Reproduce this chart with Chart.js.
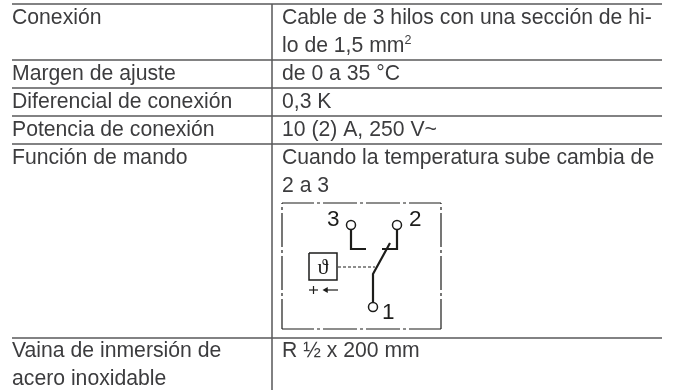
<!DOCTYPE html>
<html lang="es">

<head>
    <meta charset="UTF-8">
    <title>Datos técnicos</title>
    <style>
        body { margin: 0; background: #fff; }
        canvas { display: block; }
    </style>
</head>

<body>
    <canvas id="tabla" width="673" height="390"></canvas>
    <script src="https://cdn.jsdelivr.net/npm/chart.js"></script>
    <script>
        // the axes run in picture pixels, so every value below is read straight off the reference
        var labelsIzquierda = ['Conexión', 'Margen de ajuste', 'Diferencial de conexión', 'Potencia de conexión', 'Función de mando', 'Vaina de inmersión de', 'acero inoxidable'];
        var lineasIzquierda = [24, 80, 108, 136, 164, 357, 385];
        var labelsDerecha = ['Cable de 3 hilos con una sección de hi-', 'lo de 1,5 mm', 'de 0 a 35 °C', '0,3 K', '10 (2) A, 250 V~', 'Cuando la temperatura sube cambia de', '2 a 3', 'R ½ x 200 mm'];
        var lineasDerecha = [24, 52, 80, 108, 136, 164, 192, 357];

        var filasY = [4, 60, 88, 116, 144, 338];
        var columnaX = 272;
        var tablaX = [12, 662];
        var tablaY = [4, 390];

        // esquema del termostato
        var marcoX = [282, 441];
        var marcoY = [203, 329];
        var bornes = [{ x: 351, y: 225 }, { x: 397, y: 225 }, { x: 373, y: 307 }];
        var bornesNombres = ['3', '2', '1'];
        var bornesTextoX = [327, 409, 382];
        var bornesTextoY = [226, 226, 319];
        var contacto3 = [{ x: 351, y: 229 }, { x: 351, y: 249 }, { x: 366, y: 249 }];
        var contacto2 = [{ x: 397, y: 229 }, { x: 397, y: 249 }, { x: 382, y: 249 }];
        var palanca = [{ x: 373, y: 303 }, { x: 373, y: 274 }, { x: 390, y: 243 }];
        var sensor = [{ x: 309, y: 253 }, { x: 337, y: 253 }, { x: 337, y: 280 }, { x: 309, y: 280 }, { x: 309, y: 253 }];
        var enlace = [{ x: 338, y: 267 }, { x: 375, y: 267 }];
        var mas = [{ x: 309, y: 290 }, { x: 318, y: 290 }];
        var masV = [{ x: 313.5, y: 286 }, { x: 313.5, y: 294 }];
        var flecha = [{ x: 326, y: 290 }, { x: 338, y: 290 }];
        var puntaFlecha = [{ x: 326, y: 290 }];

        var colorLinea = '#58585a';
        var colorTexto = '#3c3c3e';
        var colorEsquema = '#1d1d1b';

        function linea(puntos, color, ancho, guiones, desfase) {
            return {
                data: puntos,
                showLine: true,
                borderColor: color,
                borderWidth: ancho,
                borderDash: guiones || [],
                borderDashOffset: desfase || 0,
                pointRadius: 0,
                borderCapStyle: 'butt',
                borderJoinStyle: 'miter',
                tension: 0
            };
        }

        var datasets = [];
        filasY.forEach(function (y) {
            datasets.push(linea([{ x: tablaX[0], y: y }, { x: tablaX[1], y: y }], colorLinea, 1.5));
        });
        datasets.push(linea([{ x: columnaX, y: tablaY[0] }, { x: columnaX, y: tablaY[1] }], colorLinea, 1.5));

        // marco de raya y punto, cada lado con su propio desfase
        var rayaPunto = [34, 3, 3, 3];
        datasets.push(linea([{ x: marcoX[0], y: marcoY[0] }, { x: marcoX[1], y: marcoY[0] }], colorEsquema, 1.2, rayaPunto, 2));
        datasets.push(linea([{ x: marcoX[0], y: marcoY[1] }, { x: marcoX[1], y: marcoY[1] }], colorEsquema, 1.2, rayaPunto, 2));
        datasets.push(linea([{ x: marcoX[0], y: marcoY[0] }, { x: marcoX[0], y: marcoY[1] }], colorEsquema, 1.2, rayaPunto, -10));
        datasets.push(linea([{ x: marcoX[1], y: marcoY[0] }, { x: marcoX[1], y: marcoY[1] }], colorEsquema, 1.2, rayaPunto, -10));

        datasets.push(linea(contacto3, colorEsquema, 2.2));
        datasets.push(linea(contacto2, colorEsquema, 2.2));
        datasets.push(linea(palanca, colorEsquema, 2.2));
        datasets.push(linea(sensor, colorEsquema, 1.5));
        datasets.push(linea(enlace, colorEsquema, 1.2, [3, 2]));
        datasets.push(linea(mas, colorEsquema, 1.2));
        datasets.push(linea(masV, colorEsquema, 1.2));
        datasets.push(linea(flecha, colorEsquema, 1.2));
        datasets.push({ data: puntaFlecha, pointStyle: 'triangle', rotation: -90, pointRadius: 3.5, backgroundColor: colorEsquema, borderWidth: 0 });
        datasets.push({ data: bornes, pointStyle: 'circle', pointRadius: 4.5, backgroundColor: '#fff', borderColor: colorEsquema, borderWidth: 1.5 });

        // los textos se escriben con las escalas del propio gráfico
        var textos = {
            id: 'textos',
            afterDatasetsDraw: function (chart) {
                var ctx = chart.ctx;
                var sx = chart.scales.x;
                var sy = chart.scales.y;
                ctx.save();
                ctx.textBaseline = 'alphabetic';
                ctx.textAlign = 'left';
                ctx.fillStyle = colorTexto;
                ctx.font = '21.2px "Liberation Sans"';
                labelsIzquierda.forEach(function (t, i) {
                    ctx.fillText(t, sx.getPixelForValue(12), sy.getPixelForValue(lineasIzquierda[i]));
                });
                labelsDerecha.forEach(function (t, i) {
                    ctx.fillText(t, sx.getPixelForValue(282), sy.getPixelForValue(lineasDerecha[i]));
                });
                // superindice de mm2
                var finMm = 282 + ctx.measureText(labelsDerecha[1]).width;
                ctx.font = '12.5px "Liberation Sans"';
                ctx.fillText('2', sx.getPixelForValue(finMm), sy.getPixelForValue(44));

                ctx.fillStyle = colorEsquema;
                ctx.font = '22.5px "Liberation Sans"';
                bornesNombres.forEach(function (t, i) {
                    ctx.fillText(t, sx.getPixelForValue(bornesTextoX[i]), sy.getPixelForValue(bornesTextoY[i]));
                });
                ctx.font = '22px "Liberation Serif", "DejaVu Serif"';
                ctx.textAlign = 'center';
                ctx.fillText('ϑ', sx.getPixelForValue(323), sy.getPixelForValue(274));
                ctx.restore();
            }
        };

        var fondo = {
            id: 'fondo',
            beforeDraw: function (chart) {
                chart.ctx.fillStyle = '#fff';
                chart.ctx.fillRect(0, 0, chart.width, chart.height);
            }
        };

        new Chart(document.getElementById('tabla'), {
            type: 'scatter',
            data: { datasets: datasets },
            plugins: [fondo, textos],
            options: {
                responsive: false,
                animation: false,
                layout: { padding: 0, autoPadding: false },
                plugins: { legend: { display: false }, tooltip: { enabled: false } },
                scales: {
                    x: { type: 'linear', display: false, min: 0, max: 673 },
                    y: { type: 'linear', display: false, min: 0, max: 390, reverse: true }
                }
            }
        });
    </script>
</body>

</html>
